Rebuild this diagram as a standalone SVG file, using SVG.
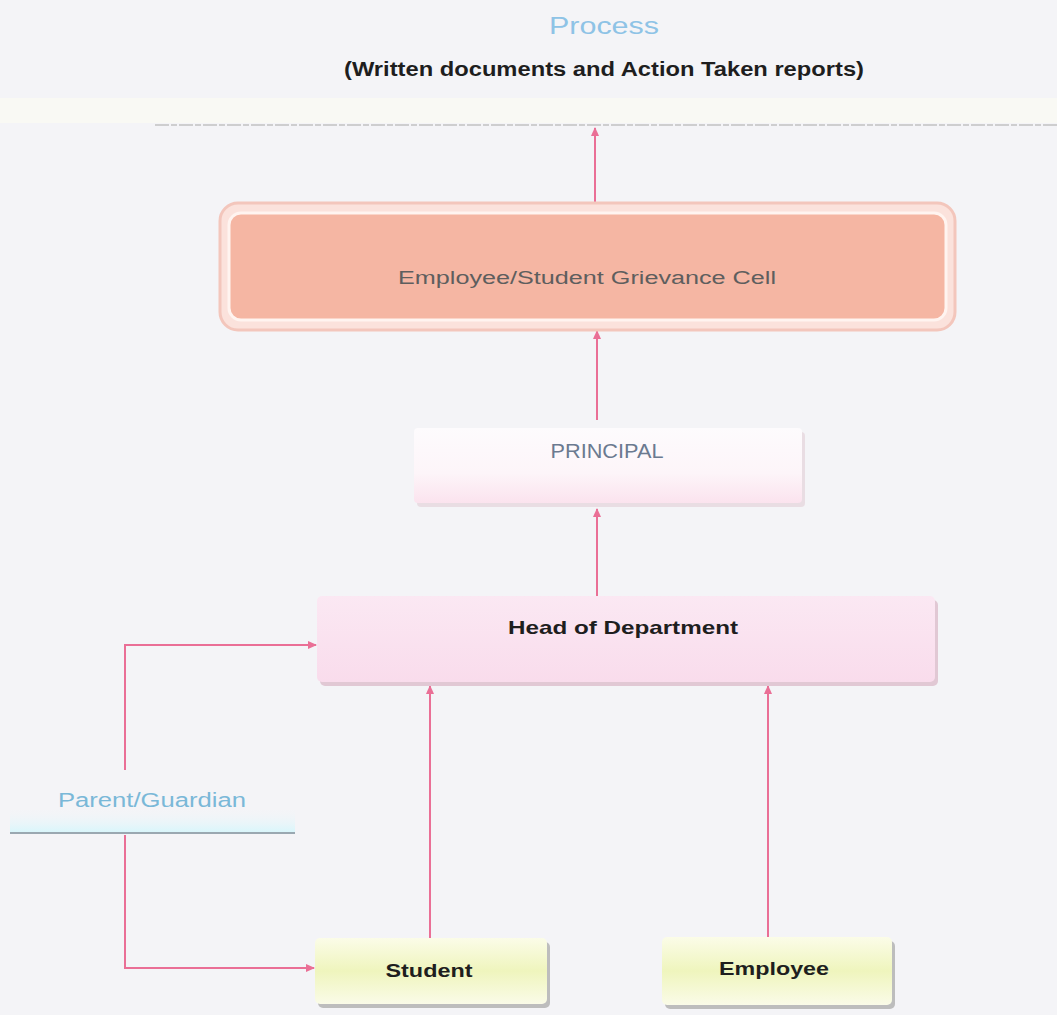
<svg xmlns="http://www.w3.org/2000/svg" width="1057" height="1015" viewBox="0 0 1057 1015">
<defs>
<style>
.t{font-family:"Liberation Sans","DejaVu Sans",sans-serif;text-anchor:middle}
.b{font-weight:bold;fill:#1e1e1e}
.c{fill:none;stroke:#ea6f96;stroke-width:2}
</style>
<marker id="ah" markerWidth="10" markerHeight="10" refX="8" refY="5" orient="auto" markerUnits="userSpaceOnUse">
<path d="M0,1 L9,5 L0,9 Z" fill="#ea6f96"/>
</marker>
<linearGradient id="gPrin" x1="0" y1="0" x2="0" y2="1">
<stop offset="0" stop-color="#fdfbfd"/><stop offset="0.6" stop-color="#fdf5f9"/><stop offset="1" stop-color="#fbe3ee"/>
</linearGradient>
<linearGradient id="gHod" x1="0" y1="0" x2="0" y2="1">
<stop offset="0" stop-color="#fbe8f3"/><stop offset="1" stop-color="#f9dcec"/>
</linearGradient>
<linearGradient id="gYel" x1="0" y1="0" x2="0" y2="1">
<stop offset="0" stop-color="#fbfce8"/><stop offset="0.5" stop-color="#eff5bd"/><stop offset="1" stop-color="#fafbe8"/>
</linearGradient>
<linearGradient id="gPar" x1="0" y1="0" x2="0" y2="1">
<stop offset="0" stop-color="#f4f6f9" stop-opacity="0"/><stop offset="1" stop-color="#d9f6fb"/>
</linearGradient>
</defs>
<rect width="1057" height="1015" fill="#f4f4f7"/>
<rect x="0" y="98" width="1057" height="25" fill="#f9f9f4"/>

<g id="header">
<text class="t" x="604" y="34" font-size="24" fill="#8ec3e6" textLength="110" lengthAdjust="spacingAndGlyphs">Process</text>
<text class="t b" x="604" y="76" font-size="20" textLength="520" lengthAdjust="spacingAndGlyphs">(Written documents and Action Taken reports)</text>
<line x1="155" y1="125" x2="1057" y2="125" stroke="#a8a8a8" stroke-width="1.2" stroke-dasharray="14 2 6 2"/>
</g>

<g id="connectors">
<line class="c" x1="595" y1="208" x2="595" y2="128" marker-end="url(#ah)"/>
<line class="c" x1="597" y1="420" x2="597" y2="331" marker-end="url(#ah)"/>
<line class="c" x1="597" y1="596" x2="597" y2="509" marker-end="url(#ah)"/>
<line class="c" x1="430" y1="938" x2="430" y2="686" marker-end="url(#ah)"/>
<line class="c" x1="768" y1="937" x2="768" y2="686" marker-end="url(#ah)"/>
<polyline class="c" points="125,770 125,645 316,645" marker-end="url(#ah)"/>
<polyline class="c" points="125,835 125,968 314,968" marker-end="url(#ah)"/>
</g>

<g id="grievance">
<rect x="220" y="203" width="735" height="127" rx="18" fill="#fbe2dc" stroke="#f3c6bc" stroke-width="3"/>
<rect x="229" y="213" width="717" height="107" rx="12" fill="#f5b6a3" stroke="#fff4f0" stroke-width="3"/>
<text class="t" x="587" y="284" font-size="18" fill="#5e5e5e" textLength="378" lengthAdjust="spacingAndGlyphs">Employee/Student Grievance Cell</text>
</g>

<g id="principal">
<rect x="417" y="432" width="388" height="75" rx="4" fill="#e9dde3"/>
<rect x="414" y="428" width="388" height="75" rx="4" fill="url(#gPrin)"/>
<text class="t" x="607" y="458" font-size="20" fill="#6b7a90" textLength="113" lengthAdjust="spacingAndGlyphs">PRINCIPAL</text>
</g>

<g id="hod">
<rect x="320" y="600" width="618" height="86" rx="5" fill="#e1c8d4"/>
<rect x="317" y="596" width="618" height="86" rx="5" fill="url(#gHod)"/>
<text class="t b" x="623" y="634" font-size="19" textLength="230" lengthAdjust="spacingAndGlyphs">Head of Department</text>
</g>

<g id="parent">
<rect x="10" y="808" width="285" height="24" fill="url(#gPar)"/>
<line x1="10" y1="833" x2="295" y2="833" stroke="#7d8f9a" stroke-width="1.5"/>
<text class="t" x="152" y="807" font-size="20" fill="#7ab8d8" textLength="188" lengthAdjust="spacingAndGlyphs">Parent/Guardian</text>
</g>

<g id="student">
<rect x="318" y="942" width="232" height="66" rx="5" fill="#bdbdbd"/>
<rect x="315" y="938" width="232" height="66" rx="5" fill="url(#gYel)"/>
<text class="t b" x="429" y="977" font-size="19" textLength="87" lengthAdjust="spacingAndGlyphs">Student</text>
</g>

<g id="employee">
<rect x="665" y="941" width="230" height="68" rx="5" fill="#bdbdbd"/>
<rect x="662" y="937" width="230" height="68" rx="5" fill="url(#gYel)"/>
<text class="t b" x="774" y="975" font-size="19" textLength="110" lengthAdjust="spacingAndGlyphs">Employee</text>
</g>
</svg>
